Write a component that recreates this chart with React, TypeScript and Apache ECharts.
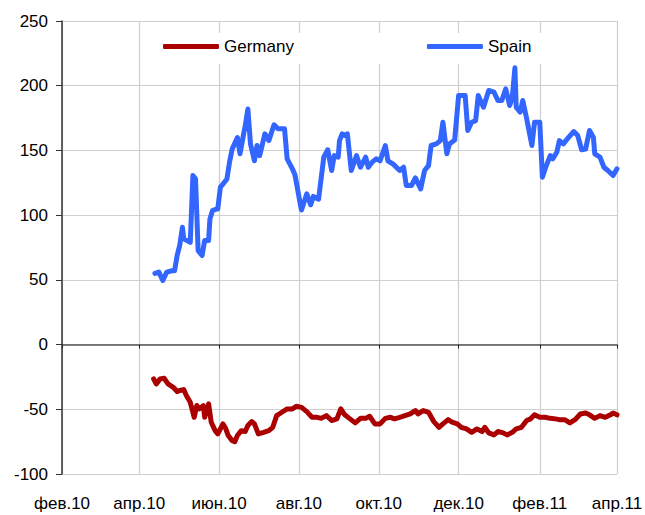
import React, { useEffect, useRef } from "react";
import * as echarts from "echarts";

// Days counted from 2010-02-01
const tickDays = [0, 59, 120, 181, 242, 303, 365, 424];
const tickLabels = ["фев.10", "апр.10", "июн.10", "авг.10", "окт.10", "дек.10", "фев.11", "апр.11"];

const spainDays = [71, 74, 77, 80, 84, 86, 88, 90, 92, 93, 98, 100, 102, 104, 107, 109, 112, 113, 115, 118, 119, 121, 123, 126, 128, 130, 134, 136, 139, 140, 142, 144, 147, 149, 151, 155, 158, 162, 165, 170, 172, 176, 178, 182, 183, 187, 190, 192, 196, 200, 203, 206, 208, 211, 212, 214, 216, 218, 221, 225, 228, 232, 234, 237, 240, 243, 247, 249, 253, 258, 261, 263, 267, 270, 274, 277, 280, 282, 286, 289, 291, 294, 296, 300, 303, 308, 310, 313, 316, 318, 322, 326, 330, 333, 336, 339, 342, 344, 346, 347, 350, 352, 355, 359, 361, 365, 367, 370, 373, 375, 378, 380, 383, 386, 391, 394, 397, 400, 403, 406, 407, 411, 414, 417, 421, 424];
const spainValues = [55, 56, 49.5, 56, 57, 57, 69, 77, 90.6, 81.7, 79, 130.6, 128, 72.6, 68.8, 80.4, 80.4, 97, 103.5, 104.8, 104.8, 121.6, 124, 128, 141, 151, 160, 147.4, 164, 169, 182, 155, 142, 153.8, 146, 162.8, 157.6, 169.8, 166.7, 166.7, 143.5, 135.8, 131, 108.7, 104, 116.5, 108, 114.5, 112.3, 144.8, 150.5, 134.5, 146, 144.8, 157.6, 162.8, 161.5, 162.8, 134.5, 146, 137, 144.8, 137, 141, 143.5, 142, 153.8, 142, 139.4, 134.5, 137, 122.9, 122.9, 128.8, 120.3, 134.5, 138.3, 153.8, 155, 157.6, 171.8, 147.4, 155, 158, 192.4, 192.4, 165.4, 171.8, 173, 192.4, 183.4, 196.3, 195, 188.6, 188.6, 197.6, 184.7, 191, 213.8, 183.4, 179.6, 188.6, 174.4, 153.8, 171.8, 171.8, 129.3, 138.3, 146, 143.5, 148.6, 157.6, 155, 158.9, 164.6, 161.5, 150.5, 151, 165.4, 160, 147.4, 144.8, 137, 134.5, 130.6, 135.8];

const germanyDays = [70, 72, 75, 78, 81, 85, 88, 90, 93, 95, 98, 101, 103, 105, 108, 109, 112, 114, 117, 119, 123, 125, 127, 130, 132, 134, 137, 140, 142, 145, 147, 150, 154, 158, 161, 164, 168, 172, 176, 179, 183, 187, 191, 195, 198, 202, 206, 210, 213, 216, 220, 224, 228, 232, 235, 239, 243, 247, 251, 254, 258, 262, 266, 270, 272, 276, 280, 284, 288, 291, 295, 298, 302, 305, 309, 313, 317, 321, 323, 326, 330, 333, 337, 340, 344, 347, 351, 355, 358, 361, 365, 369, 373, 377, 380, 384, 388, 392, 396, 400, 403, 407, 411, 415, 419, 421, 424];
const germanyValues = [-26.5, -30.4, -26.5, -26, -30.4, -33, -36.3, -35.5, -34.8, -39.4, -44.6, -56.2, -47.1, -49.7, -47.1, -56.2, -45.8, -60, -66.5, -69, -61.3, -64.7, -70.3, -74.2, -75, -70.3, -66.5, -67.2, -62.6, -59.5, -61.3, -69, -67.8, -66.5, -63.9, -54.9, -52.3, -49.7, -49.7, -47.7, -48.5, -51.8, -56.2, -56.2, -57, -54.9, -58.7, -57.4, -49.7, -54.3, -57.4, -60.5, -57, -57, -55.4, -61.3, -61.3, -57, -56.2, -57.4, -56.2, -54.9, -53.6, -51, -53.6, -51, -52.3, -59.5, -63.9, -61.3, -58, -60, -61.3, -63.9, -65.2, -67.8, -65.2, -67.2, -63.9, -68.2, -69.8, -67.2, -68.2, -69.8, -67.8, -65.2, -63.9, -58.7, -57.4, -54.3, -56.2, -56.2, -57, -57.4, -58, -58, -60.5, -58, -53.6, -52.9, -54.3, -57, -54.9, -56.2, -54.3, -52.9, -54.3];

const FONT = "'Liberation Sans', Arial, sans-serif";

export default function App() {
  const ref = useRef<HTMLDivElement>(null);
  useEffect(() => {
    if (!ref.current) return;
    const chart = echarts.init(ref.current, null, { renderer: "svg" });
    const labelFor = (v: number) => {
      const i = tickDays.indexOf(Math.round(v));
      return i >= 0 ? tickLabels[i] : "";
    };
    chart.setOption({
      animation: false,
      backgroundColor: "#ffffff",
      textStyle: { fontFamily: FONT },
      grid: { left: 62, right: 28, top: 21, bottom: 41, containLabel: false, outerBoundsMode: "none" },
      legend: {
        left: 150,
        top: 33,
        padding: [5, 44, 9, 13],
        backgroundColor: "#ffffff",
        itemGap: 133,
        itemWidth: 56,
        itemHeight: 5,
        icon: "roundRect",
        textStyle: { fontFamily: FONT, fontSize: 17, color: "#000000" },
        data: ["Germany", "Spain"],
      },
      xAxis: [
        {
          type: "value",
          position: "top",
          min: 0,
          max: 424,
          axisLine: { show: true, onZero: true, lineStyle: { color: "#555555", width: 1.5 } },
          axisTick: { show: true, inside: true, length: 4, customValues: tickDays, lineStyle: { color: "#222222" } },
          axisLabel: { show: false },
          splitLine: { show: true, lineStyle: { color: "#cfcfcf", width: 1.2 } },
        },
        {
          type: "value",
          position: "bottom",
          min: 0,
          max: 424,
          axisLine: { show: false, onZero: false },
          axisTick: { show: false, customValues: tickDays },
          axisLabel: {
            show: true,
            customValues: tickDays,
            margin: 21,
            fontSize: 17,
            color: "#000000",
            fontFamily: FONT,
            formatter: labelFor,
          },
          splitLine: { show: false },
        },
      ],
      yAxis: {
        type: "value",
        min: -100,
        max: 250,
        interval: 50,
        axisLine: { show: true, lineStyle: { color: "#333333", width: 1.5 } },
        axisTick: { show: true, length: 6, lineStyle: { color: "#333333" } },
        axisLabel: { fontSize: 17, color: "#000000", margin: 14, fontFamily: FONT },
        splitLine: { show: true, lineStyle: { color: "#cfcfcf", width: 1.2 } },
      },
      series: [
        {
          name: "Germany",
          type: "line",
          xAxisIndex: 0,
          showSymbol: false,
          symbol: "none",
          color: "#aa0000",
          lineStyle: { width: 5, color: "#aa0000", join: "round", cap: "round" },
          data: germanyDays.map((d, i) => [d, germanyValues[i]]),
          z: 3,
        },
        {
          name: "Spain",
          type: "line",
          xAxisIndex: 0,
          showSymbol: false,
          symbol: "none",
          color: "#3366ff",
          lineStyle: { width: 5, color: "#3366ff", join: "round", cap: "round" },
          data: spainDays.map((d, i) => [d, spainValues[i]]),
          z: 3,
        },
      ],
    });
    return () => chart.dispose();
  }, []);
  return <div ref={ref} style={{ position: "fixed", left: 0, top: 0, width: 645, height: 515 }} />;
}
